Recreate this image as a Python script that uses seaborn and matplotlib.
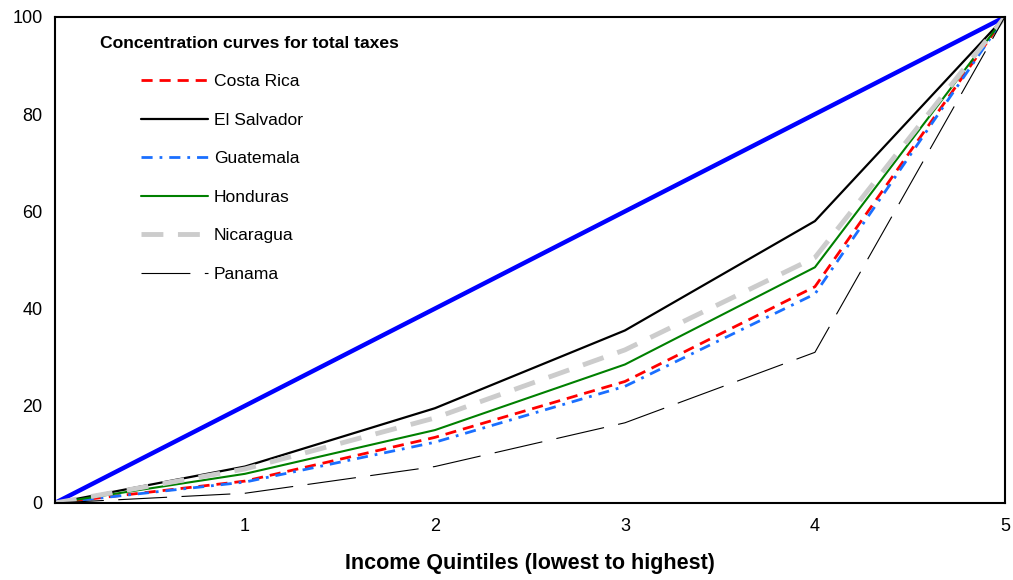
import numpy as np
import pandas as pd
import matplotlib.pyplot as plt
import seaborn as sns

# Data: cumulative share of total taxes (%) by income quintile
quintiles = [0, 1, 2, 3, 4, 5]
costa_rica = [0, 4.5, 13.5, 25.0, 44.5, 100]
el_salvador = [0, 7.5, 19.5, 35.5, 58.0, 100]
guatemala = [0, 4.3, 12.5, 24.0, 43.0, 100]
honduras = [0, 6.0, 15.0, 28.5, 48.5, 100]
nicaragua = [0, 7.0, 17.5, 31.5, 50.5, 100]
panama = [0, 2.0, 7.5, 16.5, 31.0, 100]
equality = [0, 20, 40, 60, 80, 100]

sns.set_style("white")
plt.rcParams['font.family'] = ['Liberation Sans', 'DejaVu Sans']
plt.rcParams['text.color'] = 'black'
plt.rcParams['xtick.color'] = 'black'
plt.rcParams['ytick.color'] = 'black'
plt.rcParams['axes.labelcolor'] = 'black'

fig = plt.figure(figsize=(10.13, 5.8), dpi=100)
ax = fig.add_axes([0.0543, 0.1328, 0.9377, 0.8379])

series = [
    ("Costa Rica", costa_rica, dict(color="#ff0000", lw=2.0, dashes=(4, 2.5))),
    ("El Salvador", el_salvador, dict(color="black", lw=1.6, dashes="")),
    ("Guatemala", guatemala, dict(color="#1a6fff", lw=2.0, dashes=(4, 2.5, 1, 2.5))),
    ("Honduras", honduras, dict(color="#008000", lw=1.5, dashes="")),
    ("Nicaragua", nicaragua, dict(color="#cccccc", lw=3.5, dashes=(4.5, 3))),
    ("Panama", panama, dict(color="black", lw=0.8, dashes=(44, 13))),
]

# equality line
sns.lineplot(x=quintiles, y=equality, ax=ax, color="#0000ff", lw=3.2, label="_nolegend_")

for name, vals, st in series:
    sns.lineplot(x=quintiles, y=vals, ax=ax, label=name, **st)

ax.set_xlim(0, 5)
ax.set_ylim(0, 100)
ax.set_xticks([1, 2, 3, 4, 5])
ax.set_yticks([0, 20, 40, 60, 80, 100])
ax.tick_params(axis='both', direction='in', length=5, width=1.2, labelsize=13, pad=9)
ax.tick_params(axis='x', pad=11)
for s in ax.spines.values():
    s.set_color("black")
    s.set_linewidth(1.5)

ax.set_xlabel("Income Quintiles (lowest to highest)", fontsize=15.5, fontweight='bold', labelpad=13)
ax.set_ylabel("")

ax.text(0.047, 0.945, "Concentration curves for total taxes", transform=ax.transAxes,
        fontsize=12.6, fontweight='bold', va='center', ha='left')
leg = ax.legend(loc='upper left', bbox_to_anchor=(0.074, 0.915), frameon=False,
                fontsize=12.6, handlelength=3.85, labelspacing=1.33, handletextpad=0.3)

plt.savefig("out.png", dpi=100)
